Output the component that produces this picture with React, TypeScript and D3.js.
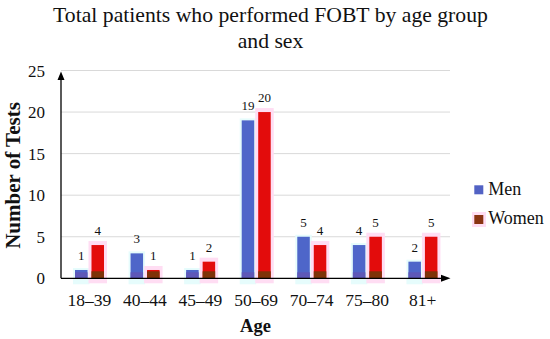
import React from "react";
import * as d3 from "d3";

const categories = ["18–39", "40–44", "45–49", "50–69", "70–74", "75–80", "81+"];
const menValues = [1, 3, 1, 19, 5, 4, 2];
const womenValues = [4, 1, 2, 20, 4, 5, 5];
const seriesNames = ["Men", "Women"];
const yTicks = [0, 5, 10, 15, 20, 25];

const W = 550;
const H = 339;
const FONT = "Liberation Serif";

export default function App() {
  const x0 = d3.scaleBand<string>().domain(categories).range([61, 450]);
  const x1 = d3.scaleBand<string>().domain(seriesNames).range([14, 43]).paddingInner(0.242);
  const y = d3.scaleLinear().domain([0, 25]).range([278.3, 70.5]);
  const base = y(0);
  const bw = x1.bandwidth();

  return (
    <div style={{ position: "absolute", left: 0, top: 0 }}>
      <svg width={W} height={H} style={{ display: "block", background: "#fff" }}>
        <text x={270.5} y={22} textAnchor="middle" fontFamily={FONT} fontSize={21.7} fill="#111">
          Total patients who performed FOBT by age group
        </text>
        <text x={270.5} y={48} textAnchor="middle" fontFamily={FONT} fontSize={21.7} fill="#111">
          and sex
        </text>

        {yTicks.filter((t) => t > 0).map((t) => (
          <line key={"g" + t} x1={61} x2={450} y1={y(t)} y2={y(t)} stroke="#D9D9D9" strokeWidth={1} />
        ))}
        {yTicks.map((t) => (
          <text key={"t" + t} x={45} y={y(t)} dy="0.36em" textAnchor="end" fontFamily={FONT} fontSize={17} fill="#111">
            {t}
          </text>
        ))}

        {categories.map((c, i) => {
          const xm = (x0(c) as number) + (x1("Men") as number);
          const xw = (x0(c) as number) + (x1("Women") as number);
          const ym = y(menValues[i]);
          const yw = y(womenValues[i]);
          const brownH = Math.min(7, base - yw);
          return (
            <g key={c}>
              <rect x={xm - 2} y={ym - 2} width={bw + 4} height={base - ym + 8} fill="#E6FCFC" />
              <rect x={xw - 3} y={yw - 4} width={bw + 6} height={base - yw + 9} fill="#FFDDF3" />
              <rect x={xm} y={ym} width={bw} height={base - ym} fill="#4E66C9" />
              <rect x={xm} y={base - Math.min(6, base - ym)} width={bw} height={Math.min(6, base - ym)} fill="#5E58B8" />
              <rect x={xw} y={yw} width={bw} height={base - yw} fill="#E30C0C" />
              <rect x={xw} y={base - brownH} width={bw} height={brownH} fill="#7E3208" />
              <text x={xm + bw / 2} y={ym - 10} textAnchor="middle" fontFamily={FONT} fontSize={13} fill="#111">
                {menValues[i]}
              </text>
              <text x={xw + bw / 2} y={yw - 10} textAnchor="middle" fontFamily={FONT} fontSize={13} fill="#111">
                {womenValues[i]}
              </text>
              <text x={(x0(c) as number) + x0.bandwidth() / 2 + 0.5} y={306} textAnchor="middle" fontFamily={FONT} fontSize={17.5} fill="#111">
                {c}
              </text>
            </g>
          );
        })}

        <line x1={61} x2={61} y1={base} y2={78} stroke="#000" strokeWidth={1.3} />
        <path d={`M61,71.5 L57.5,80 L64.5,80 Z`} fill="#000" />
        <line x1={61} x2={443} y1={base} y2={base} stroke="#000" strokeWidth={1.3} />
        <path d={`M450.5,${base} L441,${base - 3.5} L441,${base + 3.5} Z`} fill="#000" />

        <text
          transform={`translate(19.5,175.5) rotate(-90)`}
          textAnchor="middle"
          fontFamily={FONT}
          fontSize={21}
          fontWeight="bold"
          fill="#111"
        >
          Number of Tests
        </text>
        <text x={255.5} y={332} textAnchor="middle" fontFamily={FONT} fontSize={18.5} fontWeight="bold" fill="#111">
          Age
        </text>

        {seriesNames.map((s, i) => (
          <g key={s}>
            {i === 1 && <rect x={472} y={212} width={14} height={15} fill="#FFDDF3" />}
            <rect x={474.3} y={185.3 + i * 29.7} width={9} height={9} fill={i === 0 ? "#5262C4" : "#8A3412"} />
            <text x={488.3} y={194.5 + i * 29.7} fontFamily={FONT} fontSize={18} fill="#111">
              {s}
            </text>
          </g>
        ))}
      </svg>
    </div>
  );
}
